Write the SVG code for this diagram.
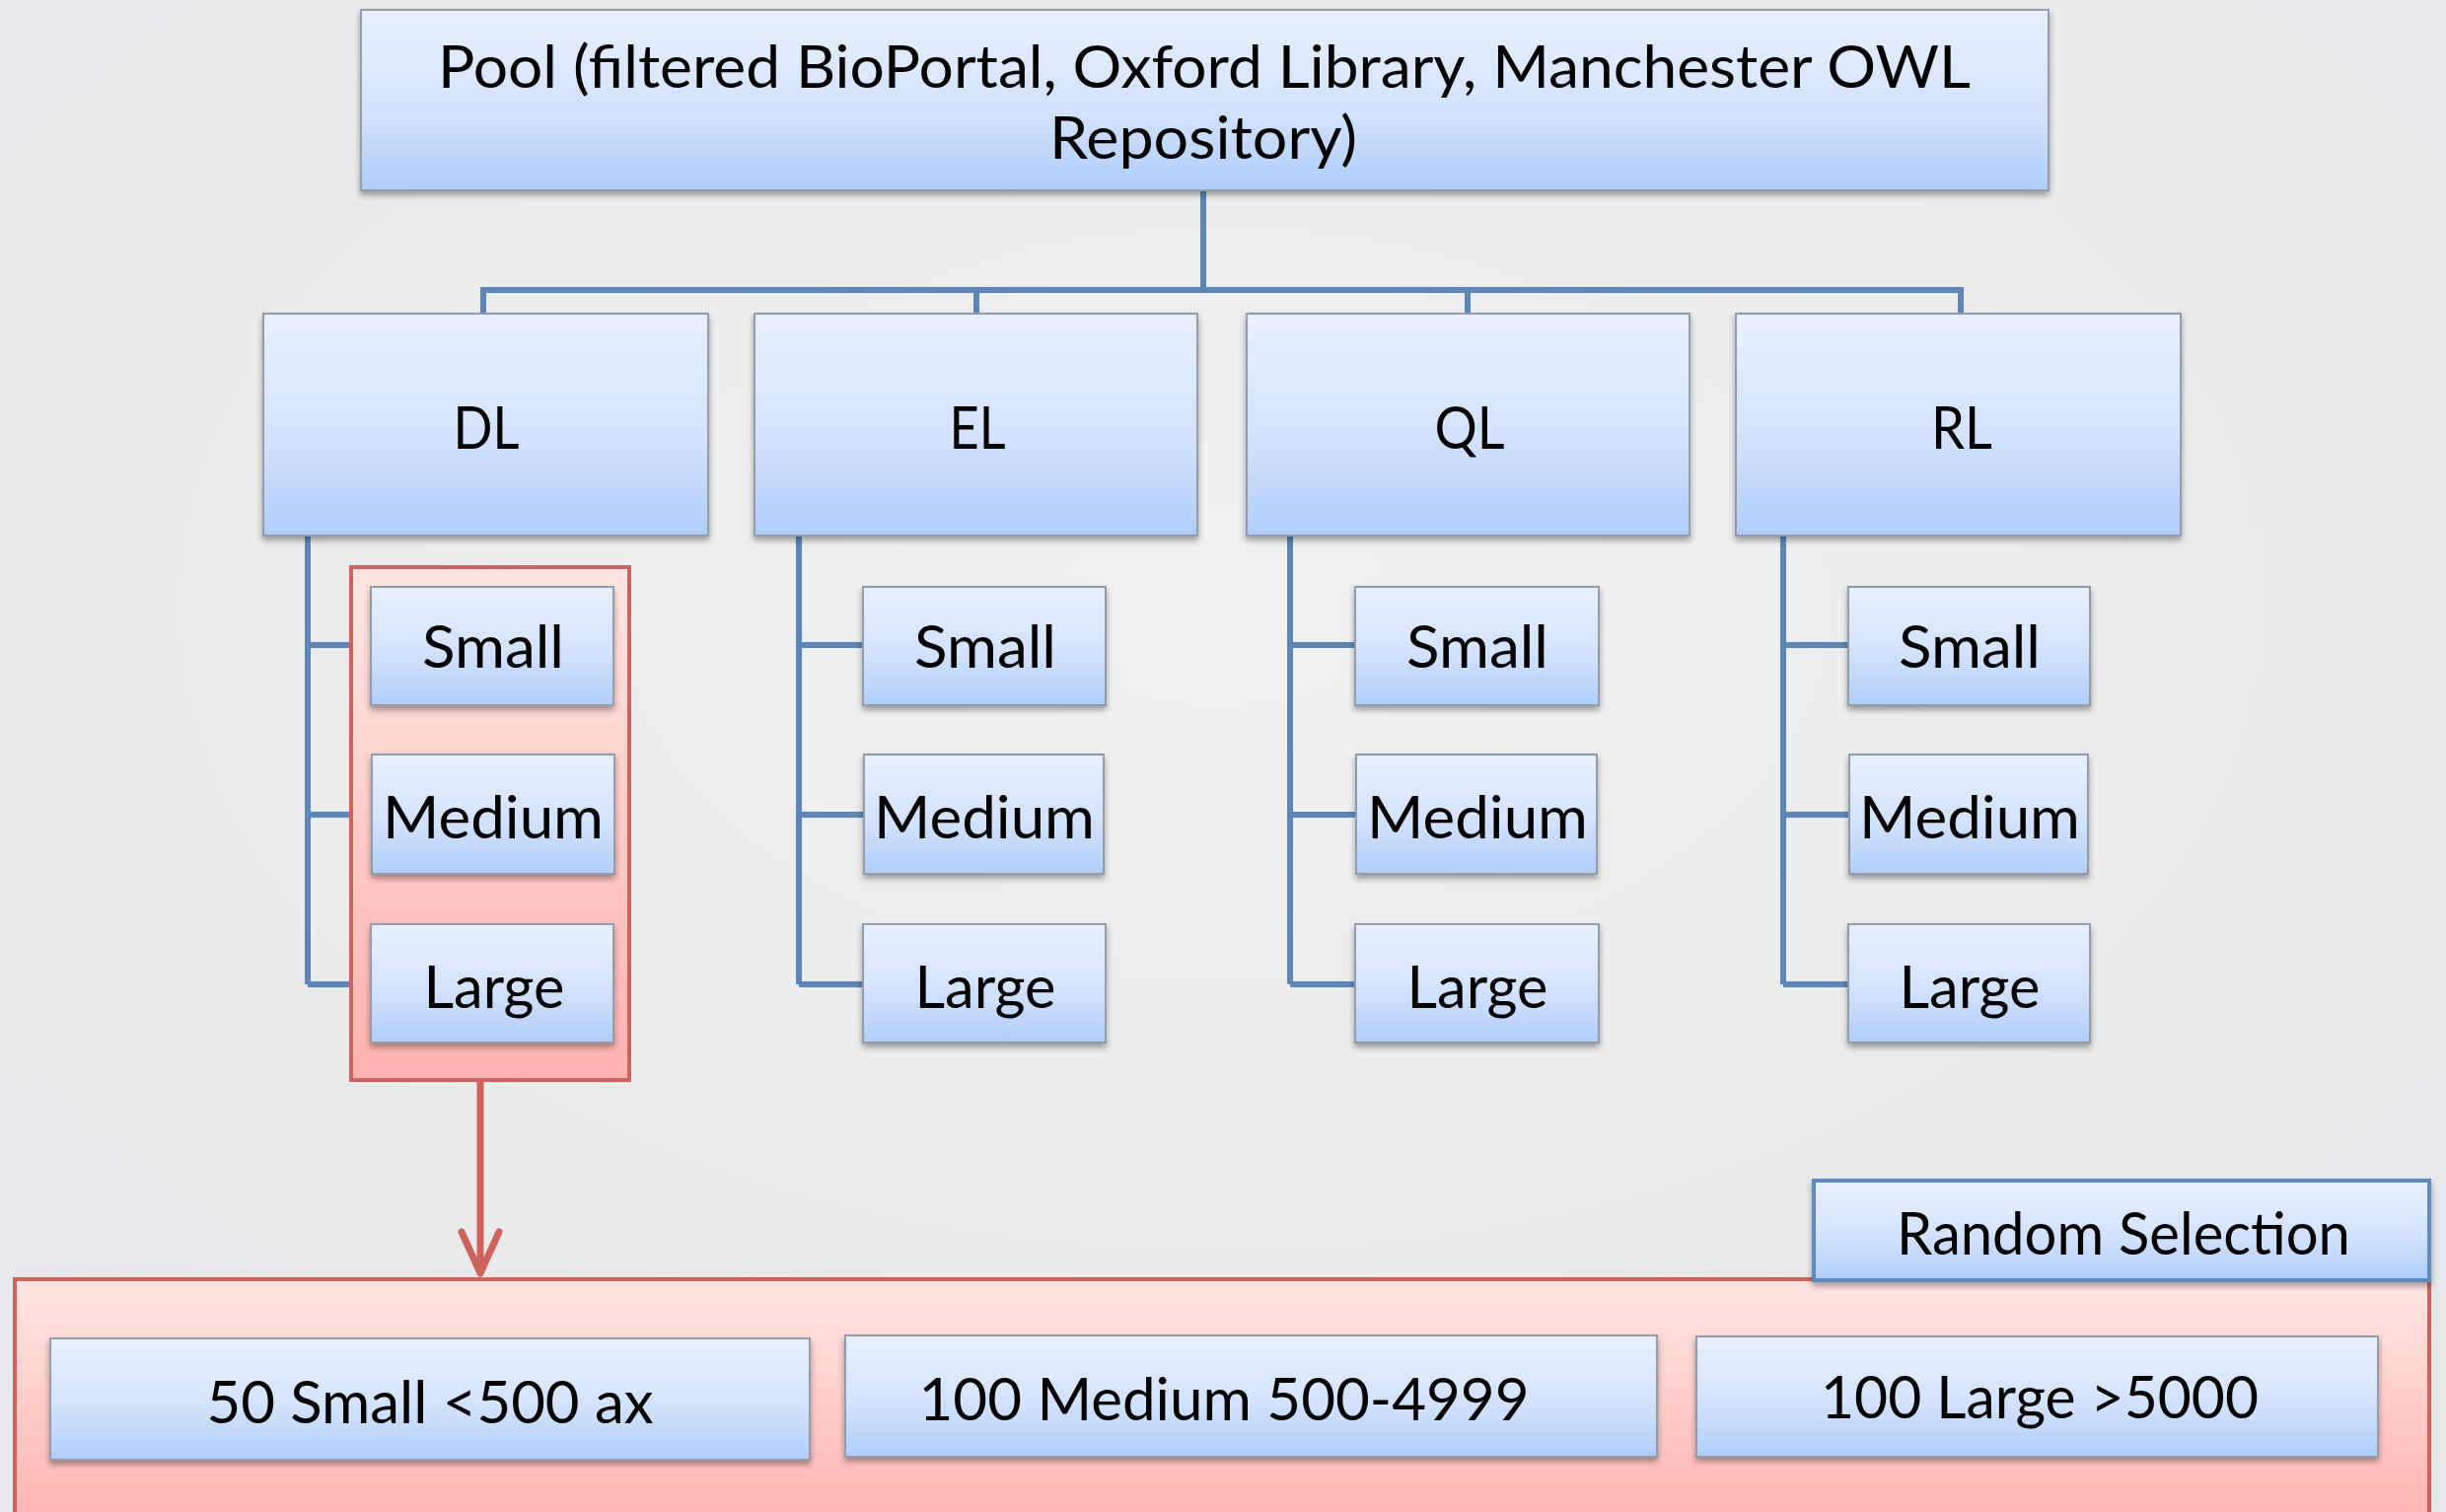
<svg xmlns="http://www.w3.org/2000/svg" width="2480" height="1533" viewBox="0 0 2480 1533">
<defs>
<radialGradient id="bg" cx="0.5" cy="0.4" r="0.8">
<stop offset="0" stop-color="#f0f0f1"/>
<stop offset="1" stop-color="#e5e6e9"/>
</radialGradient>
<linearGradient id="blue" x1="0" y1="0" x2="0" y2="1">
<stop offset="0" stop-color="#e8f0fe"/>
<stop offset="0.55" stop-color="#d3e3fd"/>
<stop offset="1" stop-color="#afcdfa"/>
</linearGradient>
<linearGradient id="red" x1="0" y1="0" x2="0" y2="1">
<stop offset="0" stop-color="#ffe6e3"/>
<stop offset="1" stop-color="#ffb2ad"/>
</linearGradient>
<filter id="sh" x="-5%" y="-10%" width="110%" height="130%">
<feDropShadow dx="0" dy="4" stdDeviation="3" flood-color="#000" flood-opacity="0.35"/>
</filter>
<marker id="arr" viewBox="0 0 50 48" refX="46" refY="24" markerWidth="50" markerHeight="48" markerUnits="userSpaceOnUse" orient="auto">
<path d="M4 5 L46 24 L4 43" fill="none" stroke="#cd635b" stroke-width="7" stroke-linecap="round" stroke-linejoin="round"/>
</marker>
</defs>
<style>
.box{fill:url(#blue);stroke:#939cab;stroke-width:2;filter:url(#sh)}
.rbox{fill:url(#red);stroke:#cd635b;stroke-width:4}
.conn{fill:none;stroke:#5a87b8;stroke-width:6;stroke-linejoin:miter}
.t{font-family:Lato,"Liberation Sans",sans-serif;font-size:60px;fill:#000;text-anchor:middle}
</style>
<rect width="2480" height="1533" fill="url(#bg)"/>

<g id="connectors">
<path class="conn" d="M1220 193 V294 M490 318 V294 H1988 V318 M990 294 V318 M1488 294 V318"/>
<path class="conn" d="M312 543 V998 M312 654 H376 M312 826 H376 M312 998 H376"/>
<path class="conn" d="M810 543 V998 M810 654 H876 M810 826 H876 M810 998 H876"/>
<path class="conn" d="M1308 543 V998 M1308 654 H1375 M1308 826 H1375 M1308 998 H1375"/>
<path class="conn" d="M1808 543 V998 M1808 654 H1875 M1808 826 H1875 M1808 998 H1875"/>
</g>

<g id="pool">
<rect class="box" x="366" y="10" width="1711" height="183"/>
<text class="t" x="1221" y="89" textLength="1554" lengthAdjust="spacingAndGlyphs">Pool (filtered BioPortal, Oxford Library, Manchester OWL</text>
<text class="t" x="1220" y="161" textLength="312" lengthAdjust="spacingAndGlyphs">Repository)</text>
</g>

<g id="dl">
<rect class="box" x="267" y="318" width="451" height="225"/>
<text class="t" x="493" y="455" textLength="67" lengthAdjust="spacingAndGlyphs">DL</text>
</g>
<g id="el">
<rect class="box" x="765" y="318" width="449" height="225"/>
<text class="t" x="991" y="455" textLength="57" lengthAdjust="spacingAndGlyphs">EL</text>
</g>
<g id="ql">
<rect class="box" x="1264" y="318" width="449" height="225"/>
<text class="t" x="1490" y="455" textLength="71" lengthAdjust="spacingAndGlyphs">QL</text>
</g>
<g id="rl">
<rect class="box" x="1760" y="318" width="451" height="225"/>
<text class="t" x="1989" y="455" textLength="62" lengthAdjust="spacingAndGlyphs">RL</text>
</g>

<g id="dl-selection">
<rect class="rbox" x="356" y="575" width="282" height="520"/>
</g>

<g id="dl-small"><rect class="box" x="376" y="595" width="246" height="120"/><text class="t" x="500" y="677" textLength="144" lengthAdjust="spacingAndGlyphs">Small</text></g>
<g id="dl-medium"><rect class="box" x="377" y="765" width="246" height="121"/><text class="t" x="500" y="850" textLength="224" lengthAdjust="spacingAndGlyphs">Medium</text></g>
<g id="dl-large"><rect class="box" x="376" y="937" width="246" height="120"/><text class="t" x="501" y="1022" textLength="143" lengthAdjust="spacingAndGlyphs">Large</text></g>

<g id="el-small"><rect class="box" x="875" y="595" width="246" height="120"/><text class="t" x="999" y="677" textLength="144" lengthAdjust="spacingAndGlyphs">Small</text></g>
<g id="el-medium"><rect class="box" x="876" y="765" width="243" height="121"/><text class="t" x="998" y="850" textLength="224" lengthAdjust="spacingAndGlyphs">Medium</text></g>
<g id="el-large"><rect class="box" x="875" y="937" width="246" height="120"/><text class="t" x="999" y="1022" textLength="143" lengthAdjust="spacingAndGlyphs">Large</text></g>

<g id="ql-small"><rect class="box" x="1374" y="595" width="247" height="120"/><text class="t" x="1498" y="677" textLength="144" lengthAdjust="spacingAndGlyphs">Small</text></g>
<g id="ql-medium"><rect class="box" x="1375" y="765" width="244" height="121"/><text class="t" x="1498" y="850" textLength="224" lengthAdjust="spacingAndGlyphs">Medium</text></g>
<g id="ql-large"><rect class="box" x="1374" y="937" width="247" height="120"/><text class="t" x="1498" y="1022" textLength="143" lengthAdjust="spacingAndGlyphs">Large</text></g>

<g id="rl-small"><rect class="box" x="1874" y="595" width="245" height="120"/><text class="t" x="1997" y="677" textLength="144" lengthAdjust="spacingAndGlyphs">Small</text></g>
<g id="rl-medium"><rect class="box" x="1875" y="765" width="242" height="121"/><text class="t" x="1997" y="850" textLength="224" lengthAdjust="spacingAndGlyphs">Medium</text></g>
<g id="rl-large"><rect class="box" x="1874" y="937" width="245" height="120"/><text class="t" x="1997" y="1022" textLength="143" lengthAdjust="spacingAndGlyphs">Large</text></g>

<g id="arrow">
<path d="M487 1097 V1291" fill="none" stroke="#cd635b" stroke-width="7" marker-end="url(#arr)"/>
</g>

<g id="selection">
<rect class="rbox" x="15" y="1297" width="2448" height="260"/>
</g>

<g id="random-selection">
<rect x="1839" y="1197" width="624" height="101" fill="url(#blue)" stroke="#5b8bc6" stroke-width="4" filter="url(#sh)"/>
<text class="t" x="2153" y="1272" textLength="460" lengthAdjust="spacingAndGlyphs">Random Selection</text>
</g>

<g id="small-50">
<rect class="box" x="51" y="1357" width="770" height="123"/>
<text class="t" x="436" y="1443" font-size="63" textLength="453" lengthAdjust="spacingAndGlyphs">50 Small &lt;500 ax</text>
</g>
<g id="medium-100">
<rect class="box" x="857" y="1354" width="823" height="123"/>
<text class="t" x="1241" y="1440" font-size="63" textLength="619" lengthAdjust="spacingAndGlyphs">100 Medium 500-4999</text>
</g>
<g id="large-100">
<rect class="box" x="1720" y="1355" width="691" height="122"/>
<text class="t" x="2068" y="1438" font-size="63" textLength="444" lengthAdjust="spacingAndGlyphs">100 Large &gt;5000</text>
</g>
</svg>
